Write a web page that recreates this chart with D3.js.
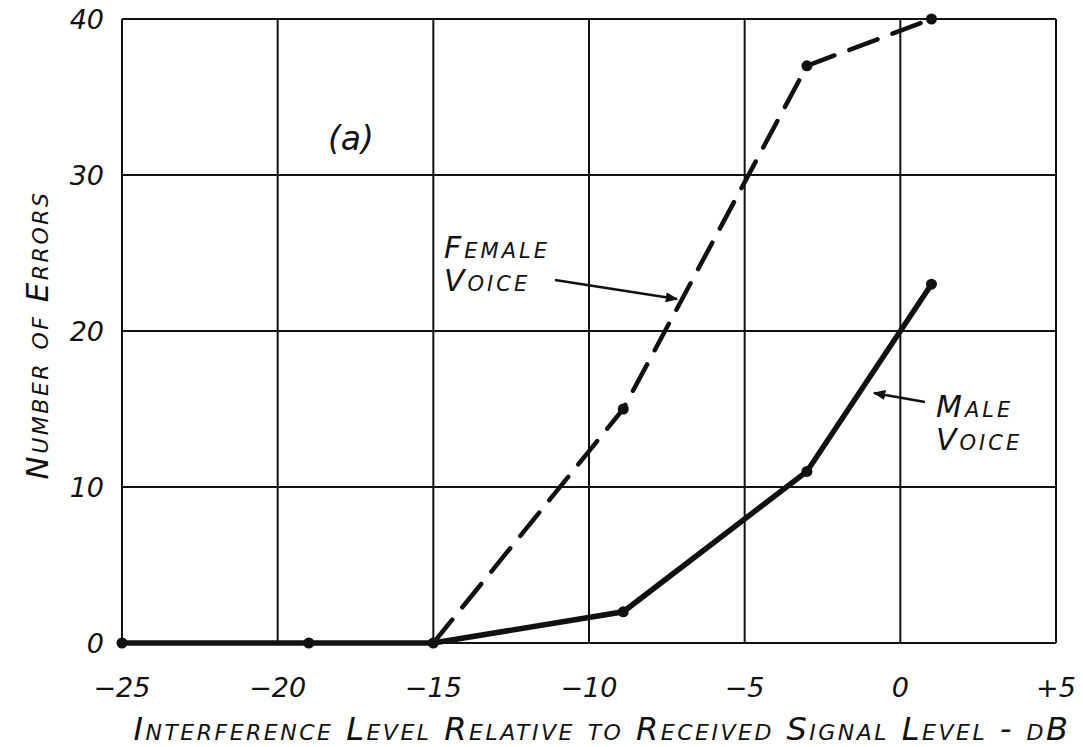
<!DOCTYPE html>
<html>
<head>
<meta charset="utf-8">
<script src="https://cdn.jsdelivr.net/npm/d3@7"></script>
<style>
  body { margin: 0; background: #fff; }
  text { font-family: "DejaVu Sans", sans-serif; font-style: italic; fill: #111; }
</style>
</head>
<body>
<div id="chart"></div>
<script>
// values
const xTicks = [-25, -20, -15, -10, -5, 0, 5]
const yTicks = [0, 10, 20, 30, 40]
const maleX = [-25, -19, -15, -8.9, -3, 1]
const maleY = [0, 0, 0, 2, 11, 23]
const femaleX = [-15, -8.9, -3, 1]
const femaleY = [0, 15, 37, 40]

const W = 1083, H = 747
const x = d3.scaleLinear().domain([-25, 5]).range([122, 1056])
const y = d3.scaleLinear().domain([0, 40]).range([643, 19])

const svg = d3.select('#chart').append('svg')
  .attr('width', W).attr('height', H)

// grid
svg.append('g').selectAll('line').data(xTicks).enter().append('line')
  .attr('x1', d => x(d)).attr('x2', d => x(d))
  .attr('y1', y(40)).attr('y2', y(0))
  .attr('stroke', '#111').attr('stroke-width', 2)
svg.append('g').selectAll('line').data(yTicks).enter().append('line')
  .attr('x1', x(-25)).attr('x2', x(5))
  .attr('y1', d => y(d)).attr('y2', d => y(d))
  .attr('stroke', '#111').attr('stroke-width', 2)

// tick labels
svg.append('g').selectAll('text').data(yTicks).enter().append('text')
  .attr('x', 104).attr('y', d => y(d) + 10)
  .attr('text-anchor', 'end').style('font-size', '27px')
  .text(d => d)
svg.append('g').selectAll('text').data(xTicks).enter().append('text')
  .attr('x', d => x(d)).attr('y', 697)
  .attr('text-anchor', 'middle').style('font-size', '27px')
  .text(d => d > 0 ? '+' + d : d < 0 ? '\u2212' + Math.abs(d) : d)

// axis titles
svg.append('text')
  .attr('x', 602).attr('y', 740).attr('text-anchor', 'middle')
  .style('font-size', '32px').style('font-variant', 'small-caps')
  .style('letter-spacing', '2.5px')
  .text('Interference Level Relative to Received Signal Level - dB')
svg.append('text')
  .attr('transform', 'translate(48,335) rotate(-90)').attr('text-anchor', 'middle')
  .style('font-size', '31px').style('font-variant', 'small-caps')
  .style('letter-spacing', '2.5px')
  .text('Number of Errors')

const line = d3.line().x(d => x(d[0])).y(d => y(d[1]))
const male = maleX.map((v, i) => [v, maleY[i]])
const female = femaleX.map((v, i) => [v, femaleY[i]])

svg.append('path').datum(female).attr('d', line)
  .attr('fill', 'none').attr('stroke', '#111').attr('stroke-width', 4.5)
  .attr('stroke-dasharray', '30,16').attr('stroke-linecap', 'round')
svg.append('path').datum(male).attr('d', line)
  .attr('fill', 'none').attr('stroke', '#111').attr('stroke-width', 5.5)
  .attr('stroke-linecap', 'round')

svg.append('g').selectAll('circle').data(male.concat(female.slice(1))).enter().append('circle')
  .attr('cx', d => x(d[0])).attr('cy', d => y(d[1])).attr('r', 5.5)
  .attr('fill', '#111')

// annotations
svg.append('text').attr('x', 328).attr('y', 150).style('font-size', '33px').text('(a)')

const label = (lines, lx, ly) => {
  svg.append('text').attr('x', lx).attr('y', ly)
    .style('font-size', '30px').style('font-variant', 'small-caps')
    .style('letter-spacing', '3px')
    .selectAll('tspan').data(lines).enter().append('tspan')
    .attr('x', lx).attr('dy', (d, i) => i ? 33 : 0).text(d => d)
}
label(['Female', 'Voice'], 444, 258)
label(['Male', 'Voice'], 936, 417)

svg.append('defs').append('marker').attr('id', 'ah')
  .attr('viewBox', '0 0 10 10').attr('refX', 9).attr('refY', 5)
  .attr('markerWidth', 5).attr('markerHeight', 5).attr('orient', 'auto')
  .append('path').attr('d', 'M0,1 L10,5 L0,9 Z').attr('fill', '#111')

const arrows = [[555, 280, 677, 299], [925, 402, 874, 393]]
svg.append('g').selectAll('line').data(arrows).enter().append('line')
  .attr('x1', d => d[0]).attr('y1', d => d[1]).attr('x2', d => d[2]).attr('y2', d => d[3])
  .attr('stroke', '#111').attr('stroke-width', 2.5).attr('marker-end', 'url(#ah)')
</script>
</body>
</html>
